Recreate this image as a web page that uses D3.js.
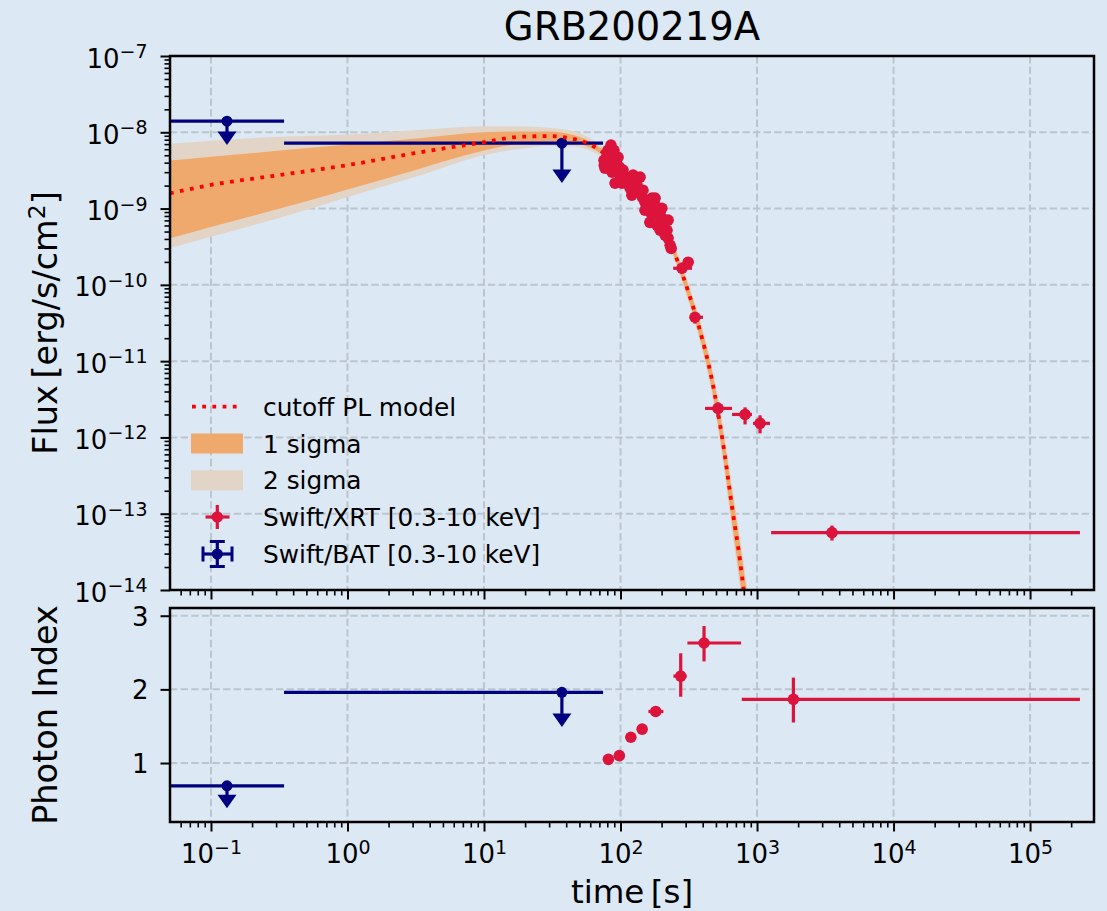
<!DOCTYPE html>
<html>
<head>
<meta charset="utf-8">
<script src="https://cdn.jsdelivr.net/npm/d3@7"></script>
<style>
  body { margin: 0; background: #dce9f5; }
  svg { display: block; font-family: "DejaVu Sans", sans-serif; }
</style>
</head>
<body>
<div id="chart"></div>
<script>
// tick values
const timeTicks = [1e-1, 1e0, 1e1, 1e2, 1e3, 1e4, 1e5];
const fluxTicks = [1e-14, 1e-13, 1e-12, 1e-11, 1e-10, 1e-9, 1e-8, 1e-7];
const indexTicks = [1, 2, 3];

// cutoff PL model and confidence bands (log10 flux)
const modelT    = [0.05, 0.1, 0.32, 1, 3.2, 10, 18, 30, 46, 63, 84, 108, 139, 179, 223, 272, 323, 382, 468, 555, 667, 750, 800, 850];
const modelLogF = [-8.80, -8.69, -8.56, -8.43, -8.27, -8.13, -8.06, -8.05, -8.09, -8.18, -8.34, -8.52, -8.76, -9.05, -9.38, -9.77, -10.16, -10.60, -11.25, -12.00, -13.00, -13.61, -14.01, -14.40];
const sig1Lo    = [-9.39, -9.24, -9.00, -8.75, -8.49, -8.24, -8.15, -8.12, -8.14, -8.22, -8.37, -8.56, -8.80, -9.09, -9.43, -9.84, -10.25, -10.70, -11.38, -12.17, -13.22, -13.87, -14.30, -14.75];
const sig1Hi    = [-8.37, -8.32, -8.24, -8.16, -8.08, -8.00, -7.99, -7.99, -8.04, -8.14, -8.31, -8.49, -8.72, -9.00, -9.32, -9.70, -10.08, -10.50, -11.13, -11.85, -12.80, -13.39, -13.75, -14.10];
const sig2Lo    = [-9.52, -9.37, -9.12, -8.85, -8.58, -8.30, -8.22, -8.18, -8.19, -8.26, -8.40, -8.59, -8.83, -9.12, -9.46, -9.88, -10.29, -10.75, -11.44, -12.24, -13.32, -13.98, -14.42, -14.90];
const sig2Hi    = [-8.15, -8.11, -8.06, -8.03, -7.97, -7.92, -7.92, -7.94, -7.99, -8.10, -8.28, -8.46, -8.69, -8.97, -9.29, -9.66, -10.04, -10.45, -11.07, -11.78, -12.72, -13.30, -13.65, -14.00];

// Swift/XRT flux: [t, tLo, tHi, F, FLo, FHi]
const xrtFlux = [
  [75.7, 73, 78, 4.3e-9, 3.9e-9, 4.7e-9],
  [76, 73, 79, 3.7e-9, 3.3e-9, 4.1e-9],
  [76.9, 74, 80, 3.39e-9, 3.1e-9, 3.7e-9],
  [79.6, 77, 82, 5.0e-9, 4.5e-9, 5.5e-9],
  [80.9, 78, 84, 5.8e-9, 5.2e-9, 6.4e-9],
  [85.1, 82, 88, 6.8e-9, 6.1e-9, 7.5e-9],
  [86.7, 84, 90, 3.0e-9, 2.7e-9, 3.3e-9],
  [88.1, 85, 91, 3.95e-9, 3.6e-9, 4.3e-9],
  [89.5, 86, 93, 5.8e-9, 5.2e-9, 6.4e-9],
  [91.2, 88, 94, 4.3e-9, 3.9e-9, 4.7e-9],
  [91.2, 88, 94, 2.15e-9, 1.95e-9, 2.35e-9],
  [92, 89, 95, 4.2e-9, 3.8e-9, 4.6e-9],
  [95.9, 93, 99, 4.7e-9, 4.2e-9, 5.2e-9],
  [98, 95, 101, 3.5e-9, 3.2e-9, 3.9e-9],
  [99.1, 96, 102, 2.74e-9, 2.5e-9, 3.0e-9],
  [102.6, 99, 106, 2.15e-9, 1.95e-9, 2.35e-9],
  [104.3, 101, 108, 3.2e-9, 2.9e-9, 3.5e-9],
  [108, 104, 112, 2.6e-9, 2.35e-9, 2.85e-9],
  [111.6, 108, 115, 2.36e-9, 2.1e-9, 2.6e-9],
  [117.5, 113, 122, 1.85e-9, 1.65e-9, 2.05e-9],
  [121, 117, 125, 2.5e-9, 2.25e-9, 2.75e-9],
  [121, 117, 125, 1.5e-9, 1.35e-9, 1.65e-9],
  [123.6, 119, 128, 2.75e-9, 2.5e-9, 3.0e-9],
  [128, 123, 133, 2.3e-9, 2.05e-9, 2.55e-9],
  [128, 123, 133, 1.74e-9, 1.55e-9, 1.93e-9],
  [132.1, 127, 137, 2.03e-9, 1.8e-9, 2.25e-9],
  [139, 134, 144, 1.59e-9, 1.42e-9, 1.76e-9],
  [139, 134, 144, 2.58e-9, 2.3e-9, 2.85e-9],
  [145, 140, 150, 1.4e-9, 1.25e-9, 1.55e-9],
  [146, 141, 151, 1.74e-9, 1.55e-9, 1.93e-9],
  [151, 146, 156, 1.21e-9, 1.08e-9, 1.34e-9],
  [151, 146, 156, 9.5e-10, 8.5e-10, 1.05e-9],
  [156, 151, 161, 1.01e-9, 9.0e-10, 1.12e-9],
  [162, 157, 167, 1.1e-9, 9.8e-10, 1.22e-9],
  [164, 158, 170, 1.11e-9, 9.9e-10, 1.23e-9],
  [164, 158, 170, 6.6e-10, 5.9e-10, 7.3e-10],
  [170, 164, 176, 1.37e-9, 1.22e-9, 1.52e-9],
  [170, 164, 176, 8.2e-10, 7.3e-10, 9.1e-10],
  [178, 172, 184, 9.5e-10, 8.5e-10, 1.05e-9],
  [179, 173, 185, 1.11e-9, 9.9e-10, 1.23e-9],
  [179, 173, 185, 1.37e-9, 1.22e-9, 1.52e-9],
  [185, 179, 191, 6.05e-10, 5.4e-10, 6.7e-10],
  [195, 188, 202, 9.0e-10, 8.0e-10, 1.0e-9],
  [195, 188, 202, 5.2e-10, 4.6e-10, 5.8e-10],
  [200, 193, 207, 7.5e-10, 6.7e-10, 8.3e-10],
  [201, 194, 208, 6.6e-10, 5.9e-10, 7.3e-10],
  [201, 194, 208, 1.01e-9, 9.0e-10, 1.12e-9],
  [212, 205, 219, 7.0e-10, 6.2e-10, 7.8e-10],
  [212, 205, 219, 4.5e-10, 4.0e-10, 5.0e-10],
  [219, 212, 226, 5.2e-10, 4.6e-10, 5.8e-10],
  [223, 216, 230, 4.1e-10, 3.6e-10, 4.6e-10],
  [223, 216, 230, 7.05e-10, 6.3e-10, 7.8e-10],
  [231, 224, 238, 3.3e-10, 2.9e-10, 3.7e-10],
  [235, 228, 242, 3.0e-10, 2.65e-10, 3.35e-10],
  [282, 243, 334, 1.65e-10, 1.4e-10, 1.95e-10],
  [313, 290, 335, 1.98e-10, 1.7e-10, 2.3e-10],
  [351, 323, 402, 3.76e-11, 3.1e-11, 4.4e-11],
  [518, 416, 656, 2.4e-12, 1.83e-12, 2.88e-12],
  [817, 656, 918, 2.0e-12, 1.48e-12, 2.48e-12],
  [1052, 935, 1245, 1.53e-12, 1.13e-12, 1.95e-12],
  [3540, 1268, 2.32e5, 5.66e-14, 4.45e-14, 7.0e-14]
];
// Swift/BAT flux upper limits: [t, tLo, tHi, F, arrow tip]
const batFlux = [
  [0.131, 0.01, 0.343, 1.40e-8, 6.8e-9],
  [37.2, 0.343, 74.5, 7.2e-9, 2.17e-9]
];
// photon index: XRT [t, tLo, tHi, G, GLo, GHi], BAT [t, tLo, tHi, G, arrow tip]
const xrtIndex = [
  [81.5, 80, 83, 1.05, 1.04, 1.06],
  [98, 96, 100, 1.10, 1.09, 1.11],
  [119, 117, 121, 1.35, 1.34, 1.36],
  [144, 139, 149, 1.46, 1.43, 1.49],
  [181, 160, 206, 1.70, 1.68, 1.72],
  [276, 244, 305, 2.18, 1.90, 2.49],
  [409, 309, 764, 2.63, 2.38, 2.86],
  [1846, 773, 2.32e5, 1.865, 1.55, 2.16]
];
const batIndex = [
  [0.131, 0.01, 0.343, 0.69, 0.385],
  [37.2, 0.343, 74.5, 1.96, 1.49]
];

const W = 1107, H = 911;
const L = 170, R = 1094;
const topY0 = 56, topY1 = 590, botY0 = 608, botY1 = 822;
const RED = "#dc143c", NAVY = "#000080";
const C1 = "#f0a96c", C2 = "#e2d5c8", GRID = "#bcc5ce";
const TICK_FS = 26, SUP_FS = 19;

const svg = d3.select("#chart").append("svg").attr("width", W).attr("height", H);
svg.append("rect").attr("width", W).attr("height", H).attr("fill", "#dce9f5");

const x = d3.scaleLog().domain([0.0501, 2.94e5]).range([L, R]);
const yTop = d3.scaleLog().domain([1e-14, 1e-7]).range([topY1, topY0]);
const yBot = d3.scaleLinear().domain([0.199, 3.105]).range([botY1, botY0]);

const defs = svg.append("defs");
defs.append("clipPath").attr("id", "clipTop").append("rect")
  .attr("x", L).attr("y", topY0).attr("width", R - L).attr("height", topY1 - topY0);
defs.append("clipPath").attr("id", "clipBot").append("rect")
  .attr("x", L).attr("y", botY0).attr("width", R - L).attr("height", botY1 - botY0);

function minorTicks(lo, hi) {
  const out = [];
  for (let e = Math.floor(Math.log10(lo)); e <= Math.ceil(Math.log10(hi)); e++)
    for (let m = 2; m < 10; m++) {
      const v = m * Math.pow(10, e);
      if (v >= lo && v <= hi) out.push(v);
    }
  return out;
}

function powLabel(text, d) {
  const e = Math.round(Math.log10(d));
  text.text(null);
  text.append("tspan").text("10");
  text.append("tspan").attr("dy", -9.5).attr("font-size", SUP_FS).text(e < 0 ? "\u2212" + (-e) : e);
}

// ---- grids ----
function grid(g, y0, y1, yScale, yVals) {
  g.selectAll(".gx").data(timeTicks).join("line")
    .attr("x1", d => x(d)).attr("x2", d => x(d)).attr("y1", y0).attr("y2", y1)
    .attr("stroke", GRID).attr("stroke-width", 2).attr("stroke-dasharray", "7.4,3.2");
  g.selectAll(".gy").data(yVals).join("line")
    .attr("x1", L).attr("x2", R).attr("y1", d => yScale(d)).attr("y2", d => yScale(d))
    .attr("stroke", GRID).attr("stroke-width", 2).attr("stroke-dasharray", "7.4,3.2");
}
grid(svg.append("g"), topY0, topY1, yTop, fluxTicks.slice(1, -1));
grid(svg.append("g"), botY0, botY1, yBot, indexTicks);

// ---- top panel ----
const topG = svg.append("g").attr("clip-path", "url(#clipTop)");
const bands = modelT.map((t, i) => ({t, m: modelLogF[i], a: sig1Lo[i], b: sig1Hi[i], c: sig2Lo[i], d: sig2Hi[i]}));
const p = v => yTop(Math.pow(10, v));
topG.append("path").datum(bands).attr("fill", C2)
  .attr("d", d3.area().x(d => x(d.t)).y0(d => p(d.c)).y1(d => p(d.d)).curve(d3.curveMonotoneX));
topG.append("path").datum(bands).attr("fill", C1)
  .attr("d", d3.area().x(d => x(d.t)).y0(d => p(d.a)).y1(d => p(d.b)).curve(d3.curveMonotoneX));

function batMark(g, cx, cy, x0, x1, tip) {
  g.append("line").attr("x1", x0).attr("x2", x1).attr("y1", cy).attr("y2", cy)
    .attr("stroke", NAVY).attr("stroke-width", 3.2);
  g.append("line").attr("x1", cx).attr("x2", cx).attr("y1", cy).attr("y2", tip - 13)
    .attr("stroke", NAVY).attr("stroke-width", 3.2);
  g.append("path").attr("d", `M${cx - 9.5},${tip - 13.5}L${cx + 9.5},${tip - 13.5}L${cx},${tip}Z`)
    .attr("fill", NAVY);
  g.append("circle").attr("cx", cx).attr("cy", cy).attr("r", 5.5).attr("fill", NAVY);
}
function xrtMark(g, cx, cy, x0, x1, y0, y1) {
  g.append("line").attr("x1", x0).attr("x2", x1).attr("y1", cy).attr("y2", cy)
    .attr("stroke", RED).attr("stroke-width", 3.2);
  g.append("line").attr("x1", cx).attr("x2", cx).attr("y1", y0).attr("y2", y1)
    .attr("stroke", RED).attr("stroke-width", 3.2);
  g.append("circle").attr("cx", cx).attr("cy", cy).attr("r", 5.8).attr("fill", RED);
}

batFlux.forEach(d => batMark(topG, x(d[0]), yTop(d[3]), x(d[1]), x(d[2]), yTop(d[4])));
topG.append("path").datum(bands).attr("fill", "none").attr("stroke", "#ff0000")
  .attr("stroke-width", 3.8).attr("stroke-dasharray", "3.8,6.4")
  .attr("d", d3.line().x(d => x(d.t)).y(d => p(d.m)).curve(d3.curveMonotoneX));
xrtFlux.forEach(d => xrtMark(topG, x(d[0]), yTop(d[3]), x(d[1]), x(d[2]), yTop(d[4]), yTop(d[5])));

// ---- bottom panel ----
const botG = svg.append("g").attr("clip-path", "url(#clipBot)");
batIndex.forEach(d => batMark(botG, x(d[0]), yBot(d[3]), x(d[1]), x(d[2]), yBot(d[4])));
xrtIndex.forEach(d => xrtMark(botG, x(d[0]), yBot(d[3]), x(d[1]), x(d[2]), yBot(d[4]), yBot(d[5])));

// ---- axes ----
function styleAxis(g) {
  g.select(".domain").remove();
  g.selectAll(".tick line").attr("stroke", "#000");
  g.attr("font-family", "DejaVu Sans, sans-serif").attr("font-size", TICK_FS);
  g.selectAll(".tick text").attr("fill", "#000");
}
function xAxis(yPos, labels) {
  const gM = svg.append("g").attr("transform", `translate(0,${yPos})`)
    .call(d3.axisBottom(x).tickValues(timeTicks).tickSize(9.5).tickFormat(""));
  styleAxis(gM);
  gM.selectAll(".tick line").attr("stroke-width", 2);
  const gm = svg.append("g").attr("transform", `translate(0,${yPos})`)
    .call(d3.axisBottom(x).tickValues(minorTicks(0.0501, 2.94e5)).tickSize(5.5).tickFormat(""));
  styleAxis(gm);
  gm.selectAll(".tick line").attr("stroke-width", 1.6);
  if (labels) gM.selectAll(".tick text").attr("y", 41).attr("dy", null).each(function (d) { powLabel(d3.select(this), d); });
}
xAxis(topY1, false);
xAxis(botY1, true);

const gyM = svg.append("g").attr("transform", `translate(${L},0)`)
  .call(d3.axisLeft(yTop).tickValues(fluxTicks).tickSize(9.5).tickPadding(13).tickFormat(""));
styleAxis(gyM);
gyM.selectAll(".tick line").attr("stroke-width", 2);
gyM.selectAll(".tick text").attr("dy", null).attr("y", 11).each(function (d) { powLabel(d3.select(this), d); });
const gym = svg.append("g").attr("transform", `translate(${L},0)`)
  .call(d3.axisLeft(yTop).tickValues(minorTicks(1e-14, 1e-7)).tickSize(5.5).tickFormat(""));
styleAxis(gym);
gym.selectAll(".tick line").attr("stroke-width", 1.6);

const gyb = svg.append("g").attr("transform", `translate(${L},0)`)
  .call(d3.axisLeft(yBot).tickValues(indexTicks).tickSize(9.5).tickPadding(12).tickFormat(d3.format("d")));
styleAxis(gyb);
gyb.selectAll(".tick line").attr("stroke-width", 2);
gyb.selectAll(".tick text").attr("dy", null).attr("y", 9.5);

// frames
[[topY0, topY1], [botY0, botY1]].forEach(([a, b]) =>
  svg.append("rect").attr("x", L).attr("y", a).attr("width", R - L).attr("height", b - a)
    .attr("fill", "none").attr("stroke", "#000").attr("stroke-width", 2.5));

// ---- labels ----
svg.append("text").attr("x", (L + R) / 2).attr("y", 40).attr("text-anchor", "middle")
  .attr("font-size", 38.5).text("GRB200219A");
svg.append("text").attr("x", (L + R) / 2).attr("y", 903).attr("text-anchor", "middle")
  .attr("font-size", 32.5).text("time\u2009[s]");
const yl = svg.append("text").attr("transform", `translate(57,${(topY0 + topY1) / 2}) rotate(-90)`)
  .attr("text-anchor", "middle").attr("font-size", 33.5);
yl.append("tspan").text("Flux\u2009[erg/s/cm");
yl.append("tspan").attr("dy", -12).attr("font-size", 23.5).text("2");
yl.append("tspan").attr("dy", 12).text("]");
svg.append("text").attr("transform", `translate(57,${(botY0 + botY1) / 2}) rotate(-90)`)
  .attr("text-anchor", "middle").attr("font-size", 33.5).text("Photon Index");

// ---- legend ----
const lg = svg.append("g").attr("font-size", 24.8);
const rows = [406.7, 443.5, 480.3, 517, 554];
const names = ["cutoff PL model", "1 sigma", "2 sigma", "Swift/XRT [0.3-10 keV]", "Swift/BAT [0.3-10 keV]"];
lg.append("line").attr("x1", 192).attr("x2", 240).attr("y1", rows[0]).attr("y2", rows[0])
  .attr("stroke", "#ff0000").attr("stroke-width", 3.8).attr("stroke-dasharray", "3.8,6.4");
lg.append("rect").attr("x", 191).attr("y", rows[1] - 10).attr("width", 52).attr("height", 20).attr("fill", C1);
lg.append("rect").attr("x", 191).attr("y", rows[2] - 10).attr("width", 52).attr("height", 20).attr("fill", C2);
xrtMark(lg, 217.3, rows[3], 205.5, 229.5, rows[3] - 12, rows[3] + 12);
lg.append("line").attr("x1", 203).attr("x2", 232).attr("y1", rows[4]).attr("y2", rows[4]).attr("stroke", NAVY).attr("stroke-width", 3.2);
lg.append("line").attr("x1", 217.3).attr("x2", 217.3).attr("y1", rows[4] - 12.5).attr("y2", rows[4] + 12.5).attr("stroke", NAVY).attr("stroke-width", 3.2);
[203, 232].forEach(cx => lg.append("line").attr("x1", cx).attr("x2", cx)
  .attr("y1", rows[4] - 7.5).attr("y2", rows[4] + 7.5).attr("stroke", NAVY).attr("stroke-width", 3));
[rows[4] - 12.5, rows[4] + 12.5].forEach(cy => lg.append("line").attr("x1", 209.8).attr("x2", 224.8)
  .attr("y1", cy).attr("y2", cy).attr("stroke", NAVY).attr("stroke-width", 3));
lg.append("circle").attr("cx", 217.3).attr("cy", rows[4]).attr("r", 5.5).attr("fill", NAVY);
lg.selectAll(".lt").data(names).join("text").attr("x", 263).attr("y", (d, i) => rows[i] + 9).text(d => d);
</script>
</body>
</html>
